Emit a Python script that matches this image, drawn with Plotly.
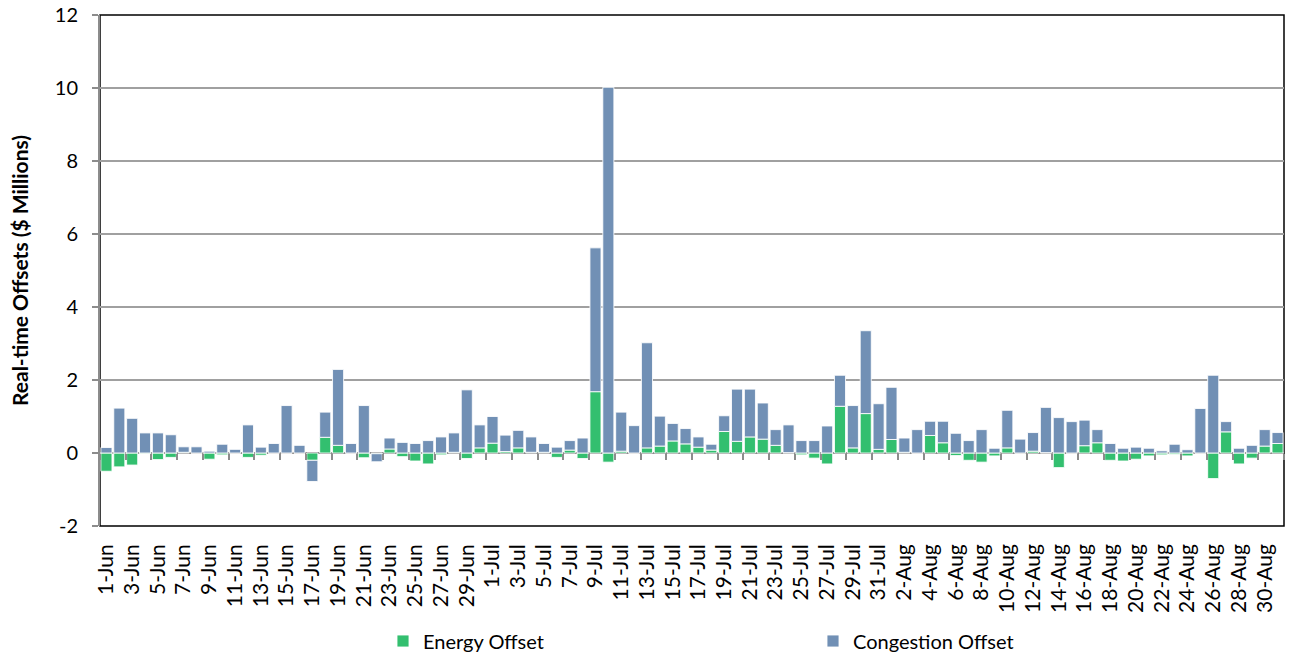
import plotly.graph_objects as go

days = [f"{d}-Jun" for d in range(1, 31)] + [f"{d}-Jul" for d in range(1, 32)] + [f"{d}-Aug" for d in range(1, 32)]

energy = [
    -0.50, -0.38, -0.33, -0.02, -0.18, -0.12, 0.02, 0.00, -0.17, -0.05,
    0.00, -0.12, -0.06, 0.00, 0.00, 0.00, -0.20, 0.43, 0.21, 0.00,
    -0.13, -0.02, 0.11, -0.10, -0.22, -0.30, -0.05, 0.02, -0.15, 0.14,
    0.27, 0.04, 0.14, 0.02, 0.02, -0.12, 0.08, -0.15, 1.68, -0.25,
    0.05, 0.00, 0.14, 0.19, 0.33, 0.25, 0.16, 0.08, 0.59, 0.32,
    0.44, 0.38, 0.21, 0.01, -0.05, -0.14, -0.30, 1.28, 0.14, 1.08,
    0.10, 0.37, 0.02, 0.00, 0.48, 0.28, -0.07, -0.20, -0.25, -0.08,
    0.14, 0.00, 0.05, 0.01, -0.40, 0.00, 0.20, 0.28, -0.20, -0.22,
    -0.17, -0.08, -0.05, -0.04, -0.08, 0.00, -0.70, 0.58, -0.30, -0.14,
    0.19, 0.26,
]

congestion = [
    0.15, 1.23, 0.95, 0.55, 0.55, 0.50, 0.15, 0.17, 0.05, 0.24,
    0.10, 0.77, 0.16, 0.26, 1.30, 0.21, -0.58, 0.69, 2.08, 0.26,
    1.30, -0.22, 0.30, 0.29, 0.26, 0.34, 0.44, 0.53, 1.73, 0.63,
    0.73, 0.45, 0.48, 0.42, 0.24, 0.16, 0.26, 0.41, 3.94, 10.02,
    1.07, 0.75, 2.88, 0.82, 0.48, 0.42, 0.28, 0.16, 0.43, 1.43,
    1.31, 0.99, 0.43, 0.76, 0.34, 0.34, 0.74, 0.85, 1.16, 2.27,
    1.25, 1.43, 0.39, 0.64, 0.39, 0.59, 0.54, 0.34, 0.64, 0.13,
    1.03, 0.38, 0.51, 1.24, 0.97, 0.86, 0.70, 0.36, 0.26, 0.13,
    0.16, 0.13, 0.06, 0.24, 0.09, 1.22, 2.13, 0.28, 0.13, 0.21,
    0.45, 0.30,
]

y_ticks = [-2, 0, 2, 4, 6, 8, 10, 12]
y_tick_text = ["-2", "0", "2", "4", "6", "8", "10", "12"]

GREEN = "#33BF6F"
BLUE = "#7190B5"
FONT = "Lato"

fig = go.Figure()
fig.add_trace(go.Bar(
    x=days, y=energy, name="Energy Offset",
    marker=dict(color=GREEN, line=dict(color="rgba(255,255,255,0.85)", width=1)),
))
fig.add_trace(go.Bar(
    x=days, y=congestion, name="Congestion Offset",
    marker=dict(color=BLUE, line=dict(color="rgba(255,255,255,0.85)", width=1)),
))
# invisible helper trace so the tick axis at zero is rendered
fig.add_trace(go.Scatter(
    x=days, y=energy, xaxis="x2", mode="markers",
    marker=dict(opacity=0), showlegend=False, hoverinfo="skip",
))

fig.update_layout(
    width=1293, height=660,
    margin=dict(l=100, r=9, t=15, b=134),
    paper_bgcolor="white", plot_bgcolor="white",
    barmode="relative", bargap=0.14,
    font=dict(family=FONT, size=20, color="#000000"),
    xaxis=dict(
        type="category", range=[-0.5, len(days) - 0.5],
        tickmode="linear", tick0=0, dtick=2, automargin=False,
        tickangle=-90, ticks="", showgrid=False, ticklabelstandoff=13,
        tickfont=dict(family=FONT, size=21), showline=False,
    ),
    xaxis2=dict(
        type="category", overlaying="x", anchor="free", position=2 / 14,
        range=[-0.5, len(days) - 0.5], tickmode="linear", tick0=0, dtick=2,
        tickson="boundaries", ticks="outside", ticklen=6, tickwidth=2,
        tickcolor="#8c8c8c", showticklabels=False, showgrid=False, showline=False,
    ),
    yaxis=dict(
        range=[-2, 12], tickvals=y_ticks, ticktext=y_tick_text,
        ticks="outside", ticklen=6, ticklabeloverflow="allow",
        tickcolor="#8c8c8c", tickwidth=1.5, automargin=False, ticklabelstandoff=10,
        showgrid=True, gridcolor="#a0a0a0", gridwidth=1.5,
        zeroline=True, zerolinecolor="#8c8c8c", zerolinewidth=2,
        showline=True, linecolor="#8c8c8c", linewidth=2,
        tickfont=dict(family=FONT, size=20),
        title=dict(text="<b>Real-time Offsets ($ Millions)</b>",
                   font=dict(family=FONT, size=21), standoff=20),
    ),
    legend=dict(
        orientation="h", xref="container", yref="container",
        x=383 / 1293, y=19 / 660, xanchor="left", yanchor="middle",
        entrywidth=385, entrywidthmode="pixels",
        font=dict(family=FONT, size=20), bgcolor="rgba(0,0,0,0)",
    ),
    shapes=[dict(type="rect", xref="paper", yref="paper", x0=0, x1=1, y0=0, y1=1,
                 line=dict(color="#000000", width=1.5), layer="below")],
)

fig.write_html("out.html", config={"displayModeBar": False},
               post_script="document.body.style.margin='0';")
